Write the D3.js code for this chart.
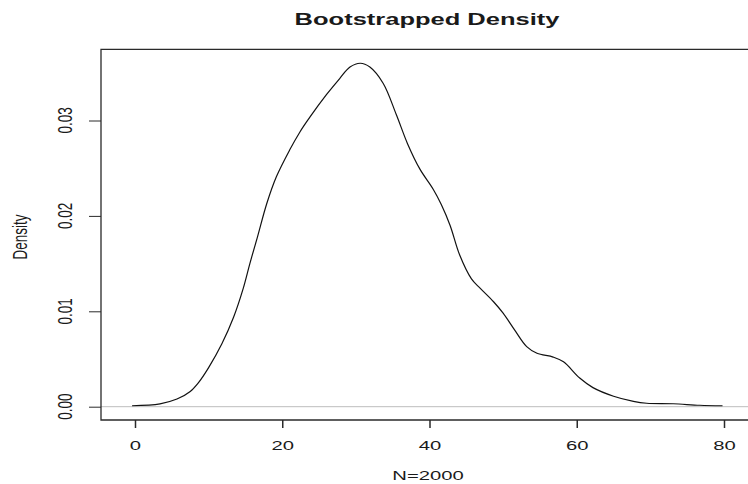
<!DOCTYPE html>
<html>
<head>
<meta charset="utf-8">
<script src="https://cdn.jsdelivr.net/npm/d3@7/dist/d3.min.js"></script>
<style>
  html, body { margin: 0; padding: 0; background: #fff; }
  svg { display: block; }
  text { font-family: "Liberation Sans", Arial, Helvetica, sans-serif; fill: #1a1a1a; }
</style>
</head>
<body>
<script>
// Kernel density estimate of the bootstrapped statistic (N = 2000 resamples)
const densityX = [-0.4, 3.4, 5.7, 7.5, 8.6, 10.0, 11.8, 13.4, 14.7, 15.6, 16.6, 17.9, 19.2, 21.0, 22.4,
  23.8, 26.0, 27.8, 29.2, 30.6, 31.9, 33.7, 35.5, 37.0, 38.7, 40.5, 41.6, 42.8, 44.1, 45.7, 46.9,
  48.7, 50.0, 51.6, 53.2, 54.6, 56.8, 58.2, 60.4, 62.2, 65.0, 67.7, 69.5, 73.1, 76.7, 79.8];
const densityY = [0.0001, 0.0003, 0.0008, 0.0016, 0.0025, 0.0041, 0.0066, 0.0094, 0.0124, 0.0150,
  0.0177, 0.0213, 0.0241, 0.0269, 0.0288, 0.0304, 0.0327, 0.0344, 0.0356, 0.0360, 0.0356, 0.0339,
  0.0306, 0.0276, 0.0249, 0.0228, 0.0212, 0.0190, 0.0159, 0.0134, 0.0124, 0.0110, 0.0098, 0.0080,
  0.0063, 0.0056, 0.0052, 0.0047, 0.0030, 0.0020, 0.0011, 0.00056, 0.00036, 0.00031, 0.00015, 0.0001];
const xTicks = [0, 20, 40, 60, 80];
const yTicks = [0, 0.01, 0.02, 0.03];
const titleText = "Bootstrapped Density";
const xLabel = "N=2000";
const yLabel = "Density";

const W = 748, H = 484;
const stretch = 1.5; // horizontal aspect of the device
const box = { left: 101, right: 760, top: 49.3, bottom: 420 };

const svg = d3.select("body").append("svg").attr("width", W).attr("height", H);

const x = d3.scaleLinear().domain([0, 80]).range([135, 724]);
const y = d3.scaleLinear().domain([0, 0.03]).range([406.7, 120.5]);

// zero reference line
svg.append("line")
  .attr("x1", box.left).attr("x2", W)
  .attr("y1", y(0)).attr("y2", y(0))
  .attr("stroke", "#bdbdbd").attr("stroke-width", 1);

// density curve
const pts = densityX.map((d, i) => [d, densityY[i]]);
svg.append("path")
  .datum(pts)
  .attr("fill", "none")
  .attr("stroke", "#111")
  .attr("stroke-width", 1.2)
  .attr("d", d3.line().x(d => x(d[0])).y(d => y(d[1])).curve(d3.curveCatmullRom.alpha(0.5)));

// plot frame
svg.append("path")
  .attr("d", `M${W},${box.top}H${box.left}V${box.bottom}H${W}`)
  .attr("fill", "none").attr("stroke", "#2a2a2a").attr("stroke-width", 1.3);

// x axis
const gx = svg.append("g").attr("transform", `translate(0,${box.bottom})`)
  .call(d3.axisBottom(x).tickValues(xTicks).tickSize(8).tickPadding(12).tickFormat(d3.format("d")));
gx.select(".domain").remove();
gx.selectAll(".tick line").attr("stroke", "#2a2a2a").attr("stroke-width", 1.5);
gx.selectAll(".tick text")
  .attr("font-size", 13.5)
  .attr("fill", "#1a1a1a")
  .attr("font-family", "Liberation Sans, Arial, sans-serif")
  .attr("transform", `scale(${stretch},1)`);

// y axis
const gy = svg.append("g").attr("transform", `translate(${box.left},0)`)
  .call(d3.axisLeft(y).tickValues(yTicks).tickSize(12).tickFormat(""));
gy.select(".domain").remove();
gy.selectAll(".tick line").attr("stroke", "#2a2a2a").attr("stroke-width", 1);

svg.append("g").selectAll("text")
  .data(yTicks)
  .join("text")
  .attr("transform", d => `translate(72,${y(d)}) scale(${stretch},1) rotate(-90)`)
  .attr("text-anchor", "middle")
  .attr("font-size", 13.5)
  .text(d3.format(".2f"));

// titles
svg.append("text")
  .attr("transform", `translate(427,25) scale(${stretch},1)`)
  .attr("text-anchor", "middle")
  .attr("font-size", 17)
  .attr("font-weight", "bold")
  .attr("fill", "#000")
  .text(titleText);

svg.append("text")
  .attr("transform", `translate(428,480) scale(${stretch},1)`)
  .attr("text-anchor", "middle")
  .attr("font-size", 13.5)
  .text(xLabel);

svg.append("text")
  .attr("transform", `translate(27,237) scale(${stretch},1) rotate(-90)`)
  .attr("text-anchor", "middle")
  .attr("font-size", 13.5)
  .text(yLabel);
</script>
</body>
</html>
